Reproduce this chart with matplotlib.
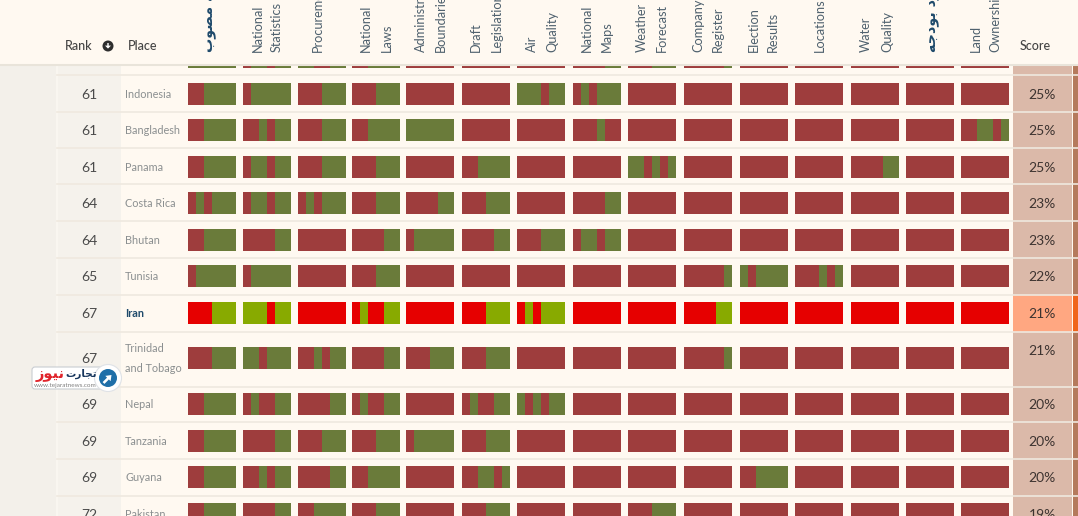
import matplotlib
matplotlib.use("Agg")
import matplotlib.pyplot as plt
from matplotlib.patches import Rectangle, FancyBboxPatch, Circle, FancyArrow

# ---------- data ----------
ranks = ["", "61", "61", "61", "64", "64", "65", "67", "67", "69", "69", "69", "72"]
places = ["", "Indonesia", "Bangladesh", "Panama", "Costa Rica", "Bhutan", "Tunisia", "Iran",
          "Trinidad\nand Tobago", "Nepal", "Tanzania", "Guyana", "Pakistan"]
scores = ["", "25%", "25%", "25%", "23%", "23%", "22%", "21%", "21%", "20%", "20%", "20%", "19%"]
# Persian strings in display order with joined letter forms (matplotlib has no Arabic shaping)
budget_approved = "\uFE8F\uFEEE\uFEBC\uFEE3 \uFEEA\uFE9F\uFEA9\uFEEE\uFE91"   # بودجه مصوب
budget_actual = "\uFEEA\uFE9F\uFEA9\uFEEE\uFE91 \uFEA9\uFEAE\uFB91\uFEE0\uFEE4\uFECB"  # عملکرد بودجه
headers = [budget_approved, "National\nStatistics", "Procurement", "National\nLaws",
           "Administrative\nBoundaries", "Draft\nLegislation", "Air\nQuality", "National\nMaps",
           "Weather\nForecast", "Company\nRegister", "Election\nResults", "Locations",
           "Water\nQuality", budget_actual, "Land\nOwnership"]
# One row per place, one 6-letter code per dataset: R = criterion failed, G = criterion met
N = "RRRRRR"
row_top = ["GGGGGG", "RGGRGG", "GGRRGG", "RRGGGG", N, N, N, "RRRRGG", "RRRGGG", "RRRRRG", N, N, N, N, N]
row_indonesia = ["RRGGGG", "RGGGGG", "RRRGGG", "RRRGGG", N, N, "GGGRGG", "RGRGGG", N, N, N, N, N, N, N]
row_bangladesh = ["RRGGGG", "RRGRGG", "RRRGGG", "RRGGGG", "GGGGGG", N, N, "RRRGRR", N, N, N, N, N, N, "RRGGRG"]
row_panama = ["RRGGGG", "RGGRGG", "RRRGGG", "RRRGGG", N, "RRGGGG", N, N, "GGRGRG", N, N, N, "RRRRGG", N, N]
row_costa_rica = ["RGRGGG", "RGGRGG", "RGRGGG", "RRRGGG", "RRRRGG", "RRRGGG", N, "RRRRGG", N, N, N, N, N, N, N]
row_bhutan = ["RRGGGG", "RRRRGG", N, "RRRRGG", "RGGGGG", "RRRRGG", "RRRGGG", "RGGRGG", N, N, N, N, N, N, N]
row_tunisia = ["RGGGGG", "RGGGGG", N, "RRRGGG", N, N, N, N, N, "RRRRRG", "GRGGGG", "RRRGRG", N, N, N]
row_iran = ["RRRGGG", "GGGRGG", N, "RGRRGG", N, "RRRGGG", "RGRGGG", N, N, "RRRRGG", N, N, N, N, N]
row_trinidad = ["RRRGGG", "GGRGGG", "RRGRGG", "RRRRGG", "RRRGGG", "RRRGGG", N, N, N, "RRRRRG", N, N, N, N, N]
row_nepal = ["RRGGGG", "RGRRGG", "RRRRGG", "RGRRGG", N, "RGRRGG", "GRGRGG", N, N, N, N, N, N, N, N]
row_tanzania = ["RRGGGG", "RRRRGG", "RRRGGG", "RRRGGG", "RGGGGG", "RRRGGG", N, N, N, N, N, N, N, N, N]
row_guyana = ["RRGGGG", "RRGRGG", "RRRRGG", "RRGGGG", N, "RRGGRG", N, N, N, N, "RRGGGG", N, N, N, N]
row_pakistan = ["RRGGGG", "RRRRGG", "RRGGGG", "RRRGGG", N, "RRRGGG", N, N, "RRRGGG", N, N, N, N, N, N]
rows = [row_top, row_indonesia, row_bangladesh, row_panama, row_costa_rica, row_bhutan, row_tunisia,
        row_iran, row_trinidad, row_nepal, row_tanzania, row_guyana, row_pakistan]

# ---------- layout (pixels) ----------
col_left = [188, 243, 297.5, 351.5, 406, 462, 517, 573, 628, 684, 740, 794.5, 850.5, 906, 961]
col_width = 48
bar_top = [46, 83, 119, 156, 192, 229, 265, 302, 347, 393, 430, 466, 503]
bar_h = 22
row_sep = [75, 112, 148, 184, 221, 258, 295, 332, 387, 422, 459, 496]
row_bounds = [64] + row_sep + [516]
head_x = [[209], [258, 277], [318], [366, 387], [421, 441], [476, 497], [532, 552], [587, 607],
          [642, 662], [698, 718], [754, 773], [820], [866, 887], [932], [976, 995]]
CREAM, SIDE, RANKBG = "#fff9f1", "#f3f0ea", "#f5f2ec"
LINE = "#efe9df"
HEAD = "#4f616e"
FONT = ["Lato", "DejaVu Sans"]

fig = plt.figure(figsize=(10.78, 5.16), dpi=100, facecolor=CREAM)
ax = fig.add_axes([0, 0, 1, 1])
ax.set_xlim(0, 1078)
ax.set_ylim(516, 0)
ax.axis("off")

# table backgrounds
ax.add_patch(Rectangle((0, 64), 57, 452, fc=SIDE, ec="none", zorder=0))
ax.add_patch(Rectangle((57, 64), 64, 452, fc=RANKBG, ec="none", zorder=0))
ax.plot([57, 57], [64, 516], color="#fbf8f2", lw=1.2, zorder=1)

for i, (top, bot) in enumerate(zip(row_bounds[:-1], row_bounds[1:])):
    iran = places[i] == "Iran"
    ax.add_patch(Rectangle((1013, top), 59, bot - top, fc="#ffa781" if iran else "#dbb9a9", ec="none", zorder=1))
    ax.add_patch(Rectangle((1073, top), 5, bot - top, fc="#f0651c" if iran else "#b57a5c", ec="none", zorder=1))
for y in row_sep:
    ax.plot([57, 1078], [y, y], color=LINE, lw=1.2, zorder=2)

# stacked segments
for r, row in enumerate(rows):
    iran = places[r] == "Iran"
    colours = {"R": "#e60000", "G": "#88aa00"} if iran else {"R": "#9e3d3d", "G": "#6a7b3a"}
    for c, code in enumerate(row):
        seg = col_width / len(code)
        for k, flag in enumerate(code):
            ax.barh(bar_top[r] + bar_h / 2, seg, left=col_left[c] + k * seg, height=bar_h,
                    color=colours[flag], lw=0, zorder=3)

# header band over the scrolled row
ax.add_patch(Rectangle((0, 0), 1078, 64, fc=CREAM, ec="none", zorder=4))
ax.plot([0, 1078], [65, 65], color="#e9e4da", lw=1.5, zorder=4)
for label, xs in zip(headers, head_x):
    persian = not label.isascii()
    for line, x in zip(label.split("\n"), xs):
        ax.text(x, 52, line, rotation=90, ha="center", va="bottom", fontsize=10.3 if persian else 9.2,
                family=["DejaVu Sans"] if persian else FONT, fontweight="bold" if persian else "normal",
                color="#1f4a6b" if persian else HEAD, zorder=5, clip_on=True)
for x, label in [(65, "Rank"), (128, "Place"), (1020, "Score")]:
    ax.text(x, 46, label, ha="left", va="center", fontsize=9, family=FONT, fontweight="medium",
            color="#444444", zorder=5)
ax.add_patch(Circle((108, 46), 5.5, fc="#2e2e2e", ec="none", zorder=5))
ax.add_patch(FancyArrow(108, 43, 0, 5.6, width=1.4, head_width=6, head_length=3,
                        length_includes_head=True, fc="white", ec="none", zorder=6))

# row texts
for i in range(1, len(rows)):
    y = bar_top[i] + bar_h / 2
    iran = places[i] == "Iran"
    two_line = "\n" in places[i]
    ax.text(89, y + 0.8, ranks[i], ha="center", va="center", fontsize=10, family=FONT, color="#4a4a4a", zorder=5)
    ax.text(1042, 351 if two_line else y + 0.8, scores[i], ha="center", va="center",
            fontsize=10, family=FONT, color="#3d3330", zorder=5)
    lines = places[i].split("\n")
    if len(lines) == 1:
        ax.text(125, y + 0.5, lines[0], ha="left", va="center", fontsize=7.8, family=FONT,
                fontweight="bold" if iran else "normal", color="#1f4a6b" if iran else "#8b8f90", zorder=5)
    else:
        for line, ly in zip(lines, [349, 369]):
            ax.text(125, ly, line, ha="left", va="center", fontsize=7.8, family=FONT, color="#8b8f90", zorder=5)

# watermark logo
ax.add_patch(FancyBboxPatch((32, 367), 80, 22, boxstyle="round,pad=0,rounding_size=3",
                            fc="white", ec="#c9cdd2", lw=0.8, zorder=6))
ax.add_patch(Circle((108, 378), 13.5, fc="white", ec="#dfe2e6", lw=0.8, zorder=7))
ax.add_patch(Circle((108, 378), 9, fc="#1f6fa8", ec="none", zorder=8))
ax.add_patch(FancyArrow(103.5, 383, 8, -8, width=2.6, head_width=7.5, head_length=5,
                        length_includes_head=True, fc="white", ec="none", zorder=9))
ax.text(64.5, 374, "\uFEAF\uFEEE\uFBFF\uFEE7", ha="right", va="center", fontsize=10.5, family="DejaVu Sans",
        fontweight="bold", color="#e0242b", zorder=9)
ax.text(65.5, 374, "\uFE95\uFEAD\uFE8E\uFEA0\uFE97", ha="left", va="center", fontsize=7.5, family="DejaVu Sans",
        fontweight="bold", color="#17365d", zorder=9)
ax.text(65, 385, "www.tejaratnews.com", ha="center", va="center", fontsize=4.6, family=FONT,
        color="#808080", zorder=9)

fig.savefig("out.png", dpi=100, facecolor=CREAM)
